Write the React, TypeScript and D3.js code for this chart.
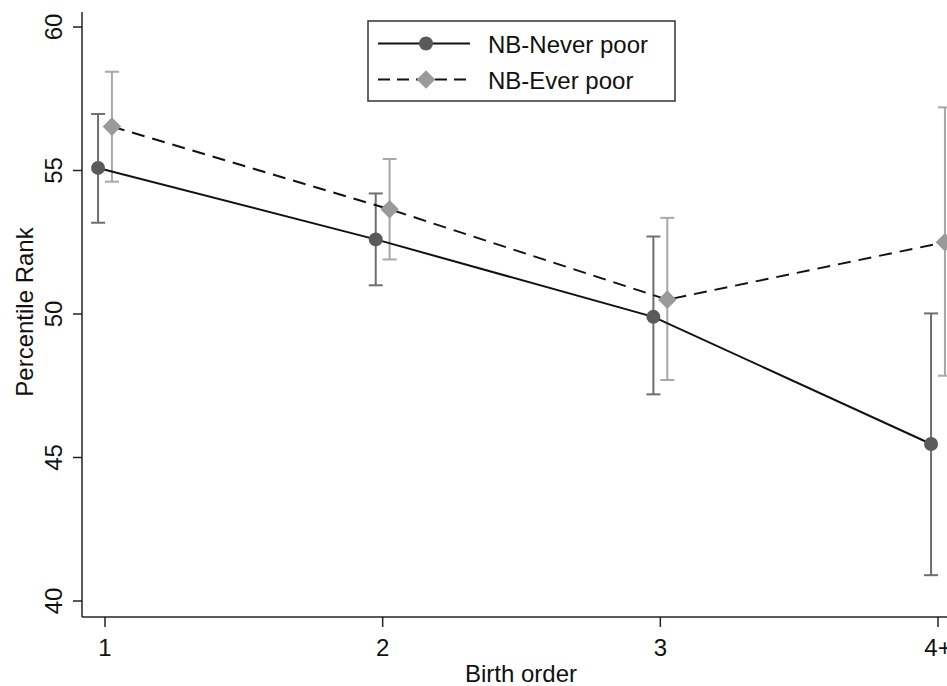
import React from "react";
import * as d3 from "d3";

// birth order categories
const categories = ["1", "2", "3", "4+"];
const yTicks = [40, 45, 50, 55, 60];

// NB-Never poor: mean and 95% CI
const neverPoor = [55.09, 52.6, 49.9, 45.47];
const neverLow = [53.18, 51.0, 47.2, 40.9];
const neverHigh = [56.97, 54.2, 52.7, 50.02];

// NB-Ever poor: mean and 95% CI
const everPoor = [56.53, 53.65, 50.5, 52.5];
const everLow = [54.61, 51.9, 47.7, 47.85];
const everHigh = [58.44, 55.4, 53.35, 57.2];

const W = 947;
const H = 686;
const font = "Liberation Sans, Arial, sans-serif";
const fs = 24;

const App = () => {
  const x = d3.scaleLinear().domain([1, 4]).range([105, 938]);
  const y = d3.scaleLinear().domain([40, 60]).range([601, 27]);
  const axisX = 82;
  const axisY = 617;

  const path = (vals: number[], off: number) =>
    d3
      .line<number>()
      .x((_, i) => x(i + 1 + off))
      .y((d) => y(d))(vals) || "";

  const diamond = d3.symbol().type(d3.symbolDiamond2).size(220)() || "";

  const series = [
    { name: "NB-Never poor", vals: neverPoor, lo: neverLow, hi: neverHigh, off: -0.025, ci: "#6e6e6e", mark: "#5a5a5a", dash: "", shape: "circle" },
    { name: "NB-Ever poor", vals: everPoor, lo: everLow, hi: everHigh, off: 0.025, ci: "#a8a8a8", mark: "#9a9a9a", dash: "13,8", shape: "diamond" },
  ];

  return (
    <svg width={W} height={H} style={{ position: "absolute", left: 0, top: 0, background: "#fff" }}>
      {/* axes */}
      <line x1={axisX} x2={axisX} y1={12} y2={axisY} stroke="#222" strokeWidth={1.5} />
      <line x1={axisX} x2={W} y1={axisY} y2={axisY} stroke="#222" strokeWidth={1.5} />
      {yTicks.map((t) => (
        <g key={t}>
          <line x1={axisX - 9} x2={axisX} y1={y(t)} y2={y(t)} stroke="#222" strokeWidth={1.5} />
          <text
            transform={`translate(${62},${y(t)}) rotate(-90)`}
            textAnchor="middle"
            fontFamily={font}
            fontSize={fs}
            fill="#111"
          >
            {t}
          </text>
        </g>
      ))}
      {categories.map((c, i) => (
        <g key={c}>
          <line x1={x(i + 1)} x2={x(i + 1)} y1={axisY} y2={axisY + 10} stroke="#222" strokeWidth={1.5} />
          <text x={x(i + 1)} y={656} textAnchor="middle" fontFamily={font} fontSize={fs} fill="#111">
            {c}
          </text>
        </g>
      ))}
      <text x={521} y={682} textAnchor="middle" fontFamily={font} fontSize={fs} fill="#111">
        Birth order
      </text>
      <text
        transform={`translate(${33},${312}) rotate(-90)`}
        textAnchor="middle"
        fontFamily={font}
        fontSize={fs}
        fill="#111"
      >
        Percentile Rank
      </text>

      {/* error bars */}
      {series.map((s) =>
        s.vals.map((_, i) => {
          const cx = x(i + 1 + s.off);
          return (
            <g key={s.name + i} stroke={s.ci} strokeWidth={2}>
              <line x1={cx} x2={cx} y1={y(s.lo[i])} y2={y(s.hi[i])} />
              <line x1={cx - 7} x2={cx + 7} y1={y(s.lo[i])} y2={y(s.lo[i])} />
              <line x1={cx - 7} x2={cx + 7} y1={y(s.hi[i])} y2={y(s.hi[i])} />
            </g>
          );
        })
      )}

      {/* lines */}
      {series.map((s) => (
        <path key={s.name} d={path(s.vals, s.off)} fill="none" stroke="#111" strokeWidth={2} strokeDasharray={s.dash} />
      ))}

      {/* markers */}
      {series.map((s) =>
        s.vals.map((v, i) => {
          const cx = x(i + 1 + s.off);
          const cy = y(v);
          return s.shape === "circle" ? (
            <circle key={s.name + "m" + i} cx={cx} cy={cy} r={7} fill={s.mark} />
          ) : (
            <path key={s.name + "m" + i} d={diamond} transform={`translate(${cx},${cy})`} fill={s.mark} />
          );
        })
      )}

      {/* legend */}
      <rect x={368} y={21} width={307} height={80} fill="#fff" stroke="#333" strokeWidth={1.5} />
      {series.map((s, i) => {
        const ly = 43.5 + i * 36;
        return (
          <g key={s.name + "leg"}>
            <line x1={378} x2={470} y1={ly} y2={ly} stroke="#111" strokeWidth={2} strokeDasharray={s.dash ? "12,7" : ""} />
            {s.shape === "circle" ? (
              <circle cx={426} cy={ly} r={7} fill={s.mark} />
            ) : (
              <path d={diamond} transform={`translate(426,${ly})`} fill={s.mark} />
            )}
            <text x={488} y={ly + 9.5} fontFamily={font} fontSize={fs} fill="#111">
              {s.name}
            </text>
          </g>
        );
      })}
    </svg>
  );
};

export default App;
